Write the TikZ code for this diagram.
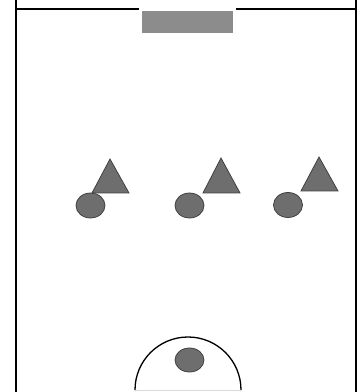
\documentclass[tikz,border=0pt]{standalone}
\tikzset{
    pitchline/.style={line width=1.3pt, black},
    player/.style={fill=black!57, draw=black!75, line width=0.8pt},
    goalbox/.style={fill=black!45, draw=none},
}
\begin{document}
\begin{tikzpicture}[x=1pt, y=1pt]
    \useasboundingbox (0,0) rectangle (360,392);
    % pitch outline with gap for the goal
    \draw[pitchline] (16,392) -- (16,383) -- (139,383);
    \draw[pitchline] (236,383) -- (356,383) -- (356,392);
    \draw[pitchline] (16,0) -- (16,383);
    \draw[pitchline] (356,0) -- (356,383);
    \fill[goalbox] (142,359) rectangle (233,381);
    % centre arc
    \coordinate (kickoff) at (188,2);
    \draw[black!15, line width=0.8pt] (135,2) -- (241,2);
    \draw[pitchline] (kickoff) ++(-53pt,0) arc[start angle=180, end angle=0, radius=53pt];
    \fill[player] (189.5,32) ellipse [x radius=14.5pt, y radius=12pt];
    % players
    \foreach \name/\cx/\cy/\ax/\ay/\bl/\br/\by in {
        left/90.5/186.5/110/233/92/129/199,
        mid/189.5/186.5/221/234/203/240/199,
        right/288/187/319/235/301/338/201} {
        \coordinate (\name) at (\cx,\cy);
        \draw[player, line join=miter] (\bl,\by) -- (\ax,\ay) -- (\br,\by) -- cycle;
        \draw[player] (\name) ellipse [x radius=14.5pt, y radius=12.5pt];
    }
\end{tikzpicture}
\end{document}
